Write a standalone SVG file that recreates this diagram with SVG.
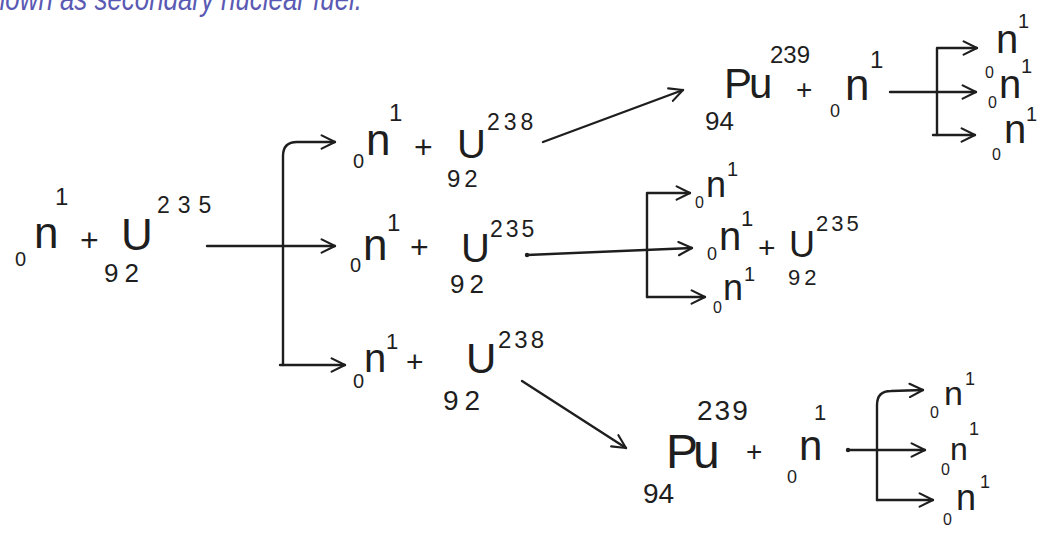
<svg xmlns="http://www.w3.org/2000/svg" width="1048" height="538" viewBox="0 0 1048 538">
<defs>
<style>
text{font-family:"Liberation Sans","DejaVu Sans",sans-serif;fill:#1e1e1e}
.cap{font-family:"Liberation Sans",sans-serif;font-style:italic;fill:#5a5ab4}
.ln{fill:none;stroke:#1e1e1e;stroke-width:2.4;stroke-linecap:round;stroke-linejoin:round}
</style>
<marker id="ah" viewBox="0 0 12 12" refX="11" refY="6" markerWidth="16" markerHeight="16" markerUnits="userSpaceOnUse" orient="auto">
<path d="M1,1 L11,6 L1,11" fill="none" stroke="#1e1e1e" stroke-width="1.6" stroke-linecap="round" stroke-linejoin="round"/>
</marker>
</defs>
<rect width="1048" height="538" fill="#ffffff"/>
<text class="cap" x="-22" y="10" font-size="34" textLength="384" lengthAdjust="spacingAndGlyphs">known as secondary nuclear fuel.</text>

<g id="connectors">
<path class="ln" d="M207,246 H335" marker-end="url(#ah)"/>
<path class="ln" d="M283,365 V156 Q283,142 297,142 H335" marker-end="url(#ah)"/>
<path class="ln" d="M280,365 H345" marker-end="url(#ah)"/>
<path class="ln" d="M543,142 L683,90" marker-end="url(#ah)"/>
<path class="ln" d="M890,92 H976" marker-end="url(#ah)"/>
<path class="ln" d="M937,135 V48 H977" marker-end="url(#ah)"/>
<path class="ln" d="M933,135 H975" marker-end="url(#ah)"/>
<circle cx="527" cy="255" r="2.2" fill="#1e1e1e"/>
<path class="ln" d="M527,255 L692,248" marker-end="url(#ah)"/>
<path class="ln" d="M647,297 V193 H690" marker-end="url(#ah)"/>
<path class="ln" d="M647,297 H705" marker-end="url(#ah)"/>
<path class="ln" d="M522,381 L626,448" marker-end="url(#ah)"/>
<circle cx="848" cy="450" r="2.2" fill="#1e1e1e"/>
<path class="ln" d="M848,450 H925" marker-end="url(#ah)"/>
<path class="ln" d="M877,500 V405 Q877,391 891,391 L923,390" marker-end="url(#ah)"/>
<path class="ln" d="M877,500 H933" marker-end="url(#ah)"/>
</g>

<g id="reactant">
<text x="15" y="266" font-size="20">0</text>
<text x="34" y="248" font-size="44">n</text>
<text x="55" y="205" font-size="24">1</text>
<text x="80" y="251" font-size="32">+</text>
<text x="121" y="250" font-size="44">U</text>
<text x="104" y="282" font-size="26" letter-spacing="6">92</text>
<text x="157" y="213" font-size="23" letter-spacing="8">235</text>
</g>

<g id="top-branch">
<text x="353" y="168" font-size="20">0</text>
<text x="366" y="155" font-size="44">n</text>
<text x="389" y="121" font-size="24">1</text>
<text x="414" y="158" font-size="32">+</text>
<text x="457" y="158" font-size="40">U</text>
<text x="447" y="187" font-size="24" letter-spacing="4">92</text>
<text x="487" y="130" font-size="23" letter-spacing="4">238</text>
</g>

<g id="middle-branch">
<text x="350" y="272" font-size="20">0</text>
<text x="363" y="260" font-size="44">n</text>
<text x="387" y="231" font-size="24">1</text>
<text x="410" y="258" font-size="32">+</text>
<text x="461" y="262" font-size="40">U</text>
<text x="450" y="293" font-size="26" letter-spacing="5">92</text>
<text x="490" y="237" font-size="23" letter-spacing="3">235</text>
</g>

<g id="bottom-branch">
<text x="353" y="388" font-size="20">0</text>
<text x="364" y="372" font-size="40">n</text>
<text x="386" y="349" font-size="22">1</text>
<text x="406" y="372" font-size="30">+</text>
<text x="466" y="373" font-size="42">U</text>
<text x="443" y="410" font-size="28" letter-spacing="6">92</text>
<text x="498" y="348" font-size="24" letter-spacing="3">238</text>
</g>

<g id="top-pu">
<text x="705" y="130" font-size="26">94</text>
<text x="724" y="98" font-size="42" letter-spacing="-3">Pu</text>
<text x="770" y="63" font-size="24">239</text>
<text x="796" y="99" font-size="28">+</text>
<text x="830" y="117" font-size="18">0</text>
<text x="845" y="100" font-size="44">n</text>
<text x="870" y="68" font-size="24">1</text>
</g>

<g id="top-neutrons">
<text x="985" y="78" font-size="16">0</text>
<text x="996" y="53" font-size="40">n</text>
<text x="1018" y="28" font-size="20">1</text>
<text x="988" y="108" font-size="16">0</text>
<text x="999" y="98" font-size="40">n</text>
<text x="1021" y="73" font-size="20">1</text>
<text x="992" y="160" font-size="16">0</text>
<text x="1004" y="143" font-size="40">n</text>
<text x="1026" y="121" font-size="20">1</text>
</g>

<g id="middle-products">
<text x="695" y="208" font-size="16">0</text>
<text x="706" y="197" font-size="36">n</text>
<text x="727" y="176" font-size="20">1</text>
<text x="707" y="260" font-size="18">0</text>
<text x="719" y="250" font-size="40">n</text>
<text x="741" y="226" font-size="22">1</text>
<text x="758" y="258" font-size="30">+</text>
<text x="789" y="257" font-size="36">U</text>
<text x="788" y="285" font-size="22" letter-spacing="4">92</text>
<text x="816" y="231" font-size="22" letter-spacing="3">235</text>
<text x="713" y="313" font-size="16">0</text>
<text x="723" y="300" font-size="36">n</text>
<text x="744" y="281" font-size="20">1</text>
</g>

<g id="bottom-pu">
<text x="643" y="503" font-size="28">94</text>
<text x="666" y="468" font-size="48" letter-spacing="-5">Pu</text>
<text x="697" y="420" font-size="28" letter-spacing="2">239</text>
<text x="746" y="461" font-size="28">+</text>
<text x="787" y="483" font-size="18">0</text>
<text x="799" y="460" font-size="42">n</text>
<text x="814" y="420" font-size="22">1</text>
</g>

<g id="bottom-neutrons">
<text x="930" y="418" font-size="16">0</text>
<text x="944" y="405" font-size="34">n</text>
<text x="965" y="385" font-size="18">1</text>
<text x="941" y="475" font-size="16">0</text>
<text x="950" y="460" font-size="32">n</text>
<text x="969" y="435" font-size="18">1</text>
<text x="943" y="525" font-size="16">0</text>
<text x="956" y="510" font-size="36">n</text>
<text x="980" y="488" font-size="18">1</text>
</g>
</svg>
